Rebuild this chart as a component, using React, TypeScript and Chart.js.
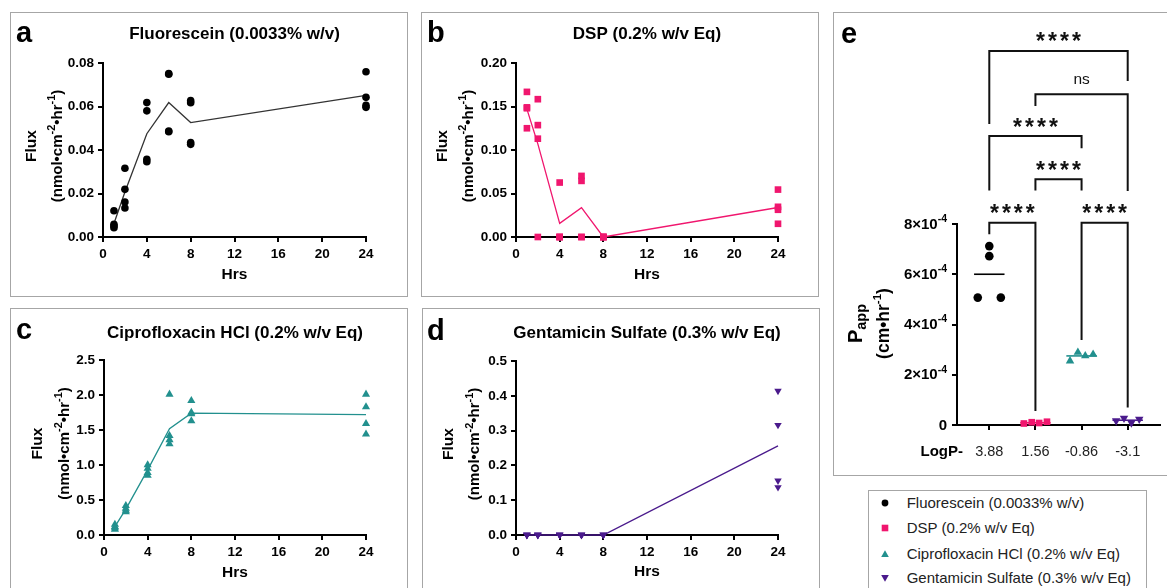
import React, { useEffect, useRef } from 'react';
import { Chart, registerables } from 'chart.js';

Chart.register(...registerables);

const FONT = "'Liberation Sans', Arial, Helvetica, sans-serif";

// ---------------- data ----------------
const hours = [1, 2, 4, 6, 8, 24];
const hourTicks = [0, 4, 8, 12, 16, 20, 24];

const fluoresceinReps = [
  [0.0121, 0.0058, 0.0051, 0.0043],
  [0.0316, 0.0219, 0.0161, 0.0133],
  [0.0618, 0.058, 0.0357, 0.0346],
  [0.0752, 0.0748, 0.0487, 0.0484],
  [0.0627, 0.0617, 0.0434, 0.0426],
  [0.076, 0.0642, 0.0605, 0.0596],
];
const fluoresceinMean = [0.0062, 0.0207, 0.0475, 0.0618, 0.0526, 0.0651];
const fluoresceinTicks = [0, 0.02, 0.04, 0.06, 0.08];

const dspReps = [
  [0.1668, 0.149, 0.148, 0.125],
  [0.1584, 0.1286, 0.113, 0.0],
  [0.0626, 0.0, 0.0, 0.0],
  [0.0702, 0.0645, 0.0, 0.0],
  [0.0, 0.0, 0.0, 0.0],
  [0.0545, 0.0347, 0.0313, 0.0152],
];
const dspMean = [0.147, 0.107, 0.0157, 0.0337, 0.0, 0.0339];
const dspTicks = [0, 0.05, 0.1, 0.15, 0.2];

const ciproReps = [
  [0.15, 0.12, 0.1, 0.08],
  [0.42, 0.38, 0.35, 0.33],
  [1.0, 0.95, 0.89, 0.85],
  [2.01, 1.42, 1.36, 1.3],
  [1.92, 1.75, 1.73, 1.63],
  [2.01, 1.83, 1.59, 1.44],
];
const ciproMean = [0.12, 0.37, 0.93, 1.52, 1.74, 1.72];
const ciproTicks = [0, 0.5, 1, 1.5, 2, 2.5];

const gentaReps = [
  [0, 0, 0, 0],
  [0, 0, 0, 0],
  [0, 0, 0, 0],
  [0, 0, 0, 0],
  [0, 0, 0, 0],
  [0.414, 0.316, 0.156, 0.137],
];
const gentaMean = [0, 0, 0, 0, 0, 0.256];
const gentaTicks = [0, 0.1, 0.2, 0.3, 0.4, 0.5];

// panel e
const logPLabels = ['3.88', '1.56', '-0.86', '-3.1'];
const pappFluorescein = [7.12e-4, 6.72e-4, 5.07e-4, 5.07e-4];
const pappDsp = [0.06e-4, 0.11e-4, 0.08e-4, 0.13e-4];
const pappCipro = [2.55e-4, 2.89e-4, 2.75e-4, 2.81e-4];
const pappGenta = [0.17e-4, 0.27e-4, 0.09e-4, 0.23e-4];
const pappMeans = [6.0e-4, 0.09e-4, 2.75e-4, 0.19e-4];
const jitterFluorescein = [0, 0, -0.25, 0.25];
const jitterOthers = [-0.25, -0.08, 0.08, 0.25];
const pappTicks = [0, 2e-4, 4e-4, 6e-4, 8e-4];
const pappTickMantissa = ['0', '2×10', '4×10', '6×10', '8×10'];
const pappTickExponent = ['', '-4', '-4', '-4', '-4'];

const sigBrackets = [
  { from: 0, to: 3, level: 14.89e-4, leftEnd: 11.98e-4, rightEnd: 13.69e-4, label: '****' },
  { from: 1, to: 3, level: 13.16e-4, leftEnd: 12.7e-4, rightEnd: 9.31e-4, label: 'ns' },
  { from: 0, to: 2, level: 11.5e-4, leftEnd: 9.33e-4, rightEnd: 11.01e-4, label: '****' },
  { from: 1, to: 2, level: 9.78e-4, leftEnd: 9.33e-4, rightEnd: 9.33e-4, label: '****' },
  { from: 0, to: 1, level: 8.05e-4, leftEnd: 7.59e-4, rightEnd: 0.56e-4, label: '****' },
  { from: 2, to: 3, level: 8.05e-4, leftEnd: 3.38e-4, rightEnd: 0.7e-4, label: '****' },
];

const SERIES = [
  { name: 'Fluorescein (0.0033% w/v)', color: '#000000', pointStyle: 'circle', rotation: 0 },
  { name: 'DSP (0.2% w/v Eq)', color: '#F0166E', pointStyle: 'rect', rotation: 0 },
  { name: 'Ciprofloxacin HCl (0.2% w/v Eq)', color: '#22908E', pointStyle: 'triangle', rotation: 0 },
  { name: 'Gentamicin Sulfate (0.3% w/v Eq)', color: '#4A1A8C', pointStyle: 'triangle', rotation: 180 },
];

// ---------------- drawing helpers ----------------
type Seg = { t: string; size: number; bold?: boolean; dy?: number };

function fontStr(size: number, bold?: boolean) {
  return `${bold ? 'bold ' : ''}${size}px ${FONT}`;
}

function drawRich(ctx: CanvasRenderingContext2D, segs: Seg[], x: number, y: number, align: string, rot: number, color: string) {
  ctx.save();
  ctx.translate(x, y);
  if (rot) ctx.rotate(rot);
  ctx.fillStyle = color;
  ctx.textBaseline = 'middle';
  ctx.textAlign = 'left';
  let total = 0;
  const widths = segs.map((s) => {
    ctx.font = fontStr(s.size, s.bold);
    const w = ctx.measureText(s.t).width;
    total += w;
    return w;
  });
  let cx = align === 'center' ? -total / 2 : align === 'right' ? -total : 0;
  segs.forEach((s, i) => {
    ctx.font = fontStr(s.size, s.bold);
    ctx.fillText(s.t, cx, s.dy || 0);
    cx += widths[i];
  });
  ctx.restore();
}

function drawText(ctx: CanvasRenderingContext2D, text: string, x: number, y: number, font: string, align: CanvasTextAlign, color = '#000') {
  ctx.save();
  ctx.font = font;
  ctx.fillStyle = color;
  ctx.textAlign = align;
  ctx.textBaseline = 'alphabetic';
  ctx.fillText(text, x, y);
  ctx.restore();
}

function axisCommon(fontSize: number, bold: boolean, pad: number, color = '#000') {
  return {
    ticks: { font: { family: FONT, size: fontSize, weight: bold ? 'bold' : 'normal' }, color, padding: pad, maxRotation: 0, autoSkip: false },
    grid: { display: true, drawOnChartArea: false, drawTicks: true, tickLength: 5, color: '#000', lineWidth: 2 },
    border: { display: true, color: '#000', width: 2 },
  };
}

// ---------------- panels a-d ----------------
const Y_W = 50;
const X_H = 30;

type TimeCfg = {
  w: number; h: number;
  area: { l: number; r: number; t: number; b: number };
  letter: string; letterX: number; letterBase: number;
  title: string; titleBase: number; hrsY: number;
  fluxX: number; parenX: number;
  reps: number[][]; mean: number[]; series: number; radius: number;
  yTicks: number[]; decimals: number;
};

const panelA: TimeCfg = {
  w: 396, h: 283, area: { l: 92, r: 355, t: 50, b: 224 },
  letter: 'a', letterX: 5, letterBase: 29, title: SERIES[0].name, titleBase: 26.3, hrsY: 262,
  fluxX: 21, parenX: 46.5, reps: fluoresceinReps, mean: fluoresceinMean, series: 0, radius: 3.8,
  yTicks: fluoresceinTicks, decimals: 2,
};
const panelB: TimeCfg = {
  w: 396, h: 283, area: { l: 94, r: 356, t: 50, b: 224 },
  letter: 'b', letterX: 5, letterBase: 28.7, title: SERIES[1].name, titleBase: 26.3, hrsY: 262,
  fluxX: 21, parenX: 46.5, reps: dspReps, mean: dspMean, series: 1, radius: 4.7,
  yTicks: dspTicks, decimals: 2,
};
const panelC: TimeCfg = {
  w: 396, h: 290, area: { l: 93, r: 355, t: 51, b: 226 },
  letter: 'c', letterX: 5, letterBase: 30.3, title: SERIES[2].name, titleBase: 29.3, hrsY: 264,
  fluxX: 27, parenX: 53.5, reps: ciproReps, mean: ciproMean, series: 2, radius: 4.7,
  yTicks: ciproTicks, decimals: 1,
};
const panelD: TimeCfg = {
  w: 396, h: 290, area: { l: 93, r: 355, t: 52, b: 226 },
  letter: 'd', letterX: 4, letterBase: 31, title: SERIES[3].name, titleBase: 29.3, hrsY: 263,
  fluxX: 25.5, parenX: 52, reps: gentaReps, mean: gentaMean, series: 3, radius: 4.3,
  yTicks: gentaTicks, decimals: 1,
};

function drawTimeText(chart: any, cfg: TimeCfg) {
  const ctx: CanvasRenderingContext2D = chart.ctx;
  const a = chart.chartArea;
  const cx = (a.left + a.right) / 2;
  drawText(ctx, cfg.letter, cfg.letterX, cfg.letterBase, fontStr(29, true), 'left');
  drawText(ctx, cfg.title, cx, cfg.titleBase, fontStr(17, true), 'center');
  drawRich(ctx, [{ t: 'Hrs', size: 15.5, bold: true }], cx, cfg.hrsY, 'center', 0, '#000');
  const cy = (a.top + a.bottom) / 2 - 4;
  drawRich(ctx, [{ t: 'Flux', size: 15.5, bold: true }], cfg.fluxX, cy, 'center', -Math.PI / 2, '#000');
  drawRich(
    ctx,
    [
      { t: '(nmol•cm', size: 15, bold: true },
      { t: '-2', size: 11, bold: true, dy: -5.5 },
      { t: '•hr', size: 15, bold: true },
      { t: '-1', size: 11, bold: true, dy: -5.5 },
      { t: ')', size: 15, bold: true },
    ],
    cfg.parenX, cy, 'center', -Math.PI / 2, '#000'
  );
}

function buildTimeConfig(cfg: TimeCfg): any {
  const s = SERIES[cfg.series];
  const pts = hours.flatMap((h, i) => cfg.reps[i].map((v) => ({ x: h, y: v })));
  const line = hours.map((h, i) => ({ x: h, y: cfg.mean[i] }));
  const xc = axisCommon(13.5, true, 4.5);
  const yc = axisCommon(13.5, true, 4);
  return {
    type: 'scatter',
    data: {
      datasets: [
        {
          data: pts, pointStyle: s.pointStyle, pointRotation: s.rotation, pointRadius: cfg.radius,
          pointBackgroundColor: s.color, pointBorderColor: s.color, pointBorderWidth: 0, clip: false,
        },
        {
          data: line, showLine: true, pointRadius: 0,
          borderColor: cfg.series === 0 ? '#333' : s.color, borderWidth: 1.3, clip: false,
        },
      ],
    },
    options: {
      animation: false, responsive: false, events: [],
      layout: { padding: { left: cfg.area.l - Y_W, right: cfg.w - cfg.area.r, top: cfg.area.t, bottom: cfg.h - cfg.area.b - X_H } },
      plugins: { legend: { display: false }, title: { display: false }, tooltip: { enabled: false } },
      scales: {
        x: {
          type: 'linear', min: 0, max: 24, ...xc,
          afterBuildTicks: (sc: any) => { sc.ticks = hourTicks.map((v) => ({ value: v })); },
          afterFit: (sc: any) => { sc.height = X_H; },
        },
        y: {
          type: 'linear', min: 0, max: cfg.yTicks[cfg.yTicks.length - 1], ...yc,
          ticks: { ...yc.ticks, callback: (v: any) => Number(v).toFixed(cfg.decimals) },
          afterBuildTicks: (sc: any) => { sc.ticks = cfg.yTicks.map((v) => ({ value: v })); },
          afterFit: (sc: any) => { sc.width = Y_W; },
        },
      },
    },
    plugins: [{ id: 'timeText', afterDraw: (chart: any) => drawTimeText(chart, cfg) }],
  };
}

function TimePanel({ cfg }: { cfg: TimeCfg }) {
  const ref = useRef<HTMLCanvasElement>(null);
  useEffect(() => {
    const chart = new Chart(ref.current as HTMLCanvasElement, buildTimeConfig(cfg));
    return () => chart.destroy();
  }, [cfg]);
  return <canvas ref={ref} width={cfg.w} height={cfg.h} style={{ position: 'absolute', left: 0, top: 0 }} />;
}

// ---------------- panel e ----------------
const E_W = 333;
const E_H = 462;
const E_AREA = { l: 123, r: 326, t: 211, b: 412 };
const E_YW = 60;
const E_XH = 40;
const MEAN_HALF = 0.33;

function drawPappText(chart: any) {
  const ctx: CanvasRenderingContext2D = chart.ctx;
  const a = chart.chartArea;
  const xs = chart.scales.x;
  const ys = chart.scales.y;
  drawText(ctx, 'e', 7, 30, fontStr(29, true), 'left');

  // y tick labels
  pappTicks.forEach((v, i) => {
    const y = ys.getPixelForValue(v);
    const segs: Seg[] = [{ t: pappTickMantissa[i], size: 15, bold: true, dy: 0.5 }];
    if (pappTickExponent[i]) segs.push({ t: pappTickExponent[i], size: 10.5, bold: true, dy: -5 });
    drawRich(ctx, segs, a.left - 10, y, 'right', 0, '#000');
  });

  // y title
  const cy = (a.top + a.bottom) / 2 - 1;
  drawRich(ctx, [{ t: 'P', size: 20, bold: true }, { t: 'app', size: 14.5, bold: true, dy: 5.5 }], 22.5, cy, 'center', -Math.PI / 2, '#000');
  drawRich(
    ctx,
    [
      { t: '(cm•hr', size: 17.5, bold: true },
      { t: '-1', size: 11.5, bold: true, dy: -6.5 },
      { t: ')', size: 17.5, bold: true },
    ],
    50, cy, 'center', -Math.PI / 2, '#000'
  );

  // LogP label
  drawRich(ctx, [{ t: 'LogP-', size: 15, bold: true }], a.left + 6, 438.7, 'right', 0, '#000');

  // significance brackets
  ctx.save();
  ctx.strokeStyle = '#111';
  ctx.lineWidth = 2;
  ctx.lineJoin = 'miter';
  ctx.lineCap = 'butt';
  sigBrackets.forEach((b) => {
    const x1 = xs.getPixelForValue(b.from);
    const x2 = xs.getPixelForValue(b.to);
    const yl = ys.getPixelForValue(b.level);
    ctx.beginPath();
    ctx.moveTo(x1, ys.getPixelForValue(b.leftEnd));
    ctx.lineTo(x1, yl);
    ctx.lineTo(x2, yl);
    ctx.lineTo(x2, ys.getPixelForValue(b.rightEnd));
    ctx.stroke();
    const mx = (x1 + x2) / 2;
    const cyl = yl - 14;
    ctx.fillStyle = '#111';
    ctx.textAlign = 'center';
    ctx.textBaseline = 'alphabetic';
    if (b.label === 'ns') {
      ctx.font = fontStr(15.5, false);
      (ctx as any).letterSpacing = '0px';
    } else {
      ctx.font = fontStr(23, true);
      (ctx as any).letterSpacing = '3px';
    }
    const m = ctx.measureText(b.label);
    const asc = m.actualBoundingBoxAscent;
    const desc = m.actualBoundingBoxDescent;
    const base = cyl + (asc - desc) / 2;
    const extra = b.label === 'ns' ? 0 : 1.5;
    ctx.fillText(b.label, mx + extra, base);
  });
  (ctx as any).letterSpacing = '0px';
  ctx.restore();
}

function buildPappConfig(): any {
  const groups = [
    { vals: pappFluorescein, jit: jitterFluorescein, r: 4.3 },
    { vals: pappDsp, jit: jitterOthers, r: 4.7 },
    { vals: pappCipro, jit: jitterOthers, r: 4.9 },
    { vals: pappGenta, jit: jitterOthers, r: 4.9 },
  ];
  const pointSets = groups.map((g, gi) => ({
    data: g.vals.map((v, i) => ({ x: gi + g.jit[i], y: v })),
    pointStyle: SERIES[gi].pointStyle, pointRotation: SERIES[gi].rotation, pointRadius: g.r,
    pointBackgroundColor: SERIES[gi].color, pointBorderColor: SERIES[gi].color, pointBorderWidth: 0, clip: false,
  }));
  const meanSets = pappMeans.map((m, gi) => ({
    data: [{ x: gi - MEAN_HALF, y: m }, { x: gi + MEAN_HALF, y: m }],
    showLine: true, pointRadius: 0, borderColor: SERIES[gi].color, borderWidth: 1.6, clip: false,
  }));
  const xc = axisCommon(14.5, false, 13, '#222');
  const yc = axisCommon(14, true, 4);
  return {
    type: 'scatter',
    data: { datasets: [...pointSets, ...meanSets] },
    options: {
      animation: false, responsive: false, events: [],
      layout: { padding: { left: E_AREA.l - E_YW, right: E_W - E_AREA.r, top: E_AREA.t, bottom: E_H - E_AREA.b - E_XH } },
      plugins: { legend: { display: false }, title: { display: false }, tooltip: { enabled: false } },
      scales: {
        x: {
          type: 'linear', min: -0.7, max: 3.7, ...xc,
          ticks: { ...xc.ticks, callback: (v: any) => logPLabels[Math.round(Number(v))] ?? '' },
          afterBuildTicks: (sc: any) => { sc.ticks = logPLabels.map((_, i) => ({ value: i })); },
          afterFit: (sc: any) => { sc.height = E_XH; },
        },
        y: {
          type: 'linear', min: 0, max: pappTicks[pappTicks.length - 1], ...yc,
          ticks: { ...yc.ticks, display: false },
          afterBuildTicks: (sc: any) => { sc.ticks = pappTicks.map((v) => ({ value: v })); },
          afterFit: (sc: any) => { sc.width = E_YW; },
        },
      },
    },
    plugins: [{ id: 'pappText', afterDraw: (chart: any) => drawPappText(chart) }],
  };
}

function PappPanel() {
  const ref = useRef<HTMLCanvasElement>(null);
  useEffect(() => {
    const chart = new Chart(ref.current as HTMLCanvasElement, buildPappConfig());
    return () => chart.destroy();
  }, []);
  return <canvas ref={ref} width={E_W} height={E_H} style={{ position: 'absolute', left: 0, top: 0 }} />;
}

// ---------------- layout ----------------
function Box({ left, top, width, height, children }: any) {
  return (
    <div
      style={{
        position: 'absolute', left, top, width, height, border: '1px solid #a6a6a6',
        boxSizing: 'border-box', overflow: 'hidden', background: '#fff',
      }}
    >
      {children}
    </div>
  );
}

const LEG_ROWS = [12.3, 37.3, 63, 87.3];

function Marker({ i }: { i: number }) {
  const c = SERIES[i].color;
  let shape: any = null;
  if (i === 0) shape = <circle cx={6} cy={6} r={3.4} fill={c} />;
  else if (i === 1) shape = <rect x={2.7} y={2.7} width={6.6} height={6.6} fill={c} />;
  else if (i === 2) shape = <polygon points="6,2.2 9.8,9 2.2,9" fill={c} />;
  else shape = <polygon points="2.2,3 9.8,3 6,9.8" fill={c} />;
  return (
    <svg width={12} height={12} style={{ position: 'absolute', left: 10, top: 4 }}>
      {shape}
    </svg>
  );
}

function LegendBox() {
  return (
    <div
      style={{
        position: 'absolute', left: 868, top: 490, width: 279, height: 120,
        border: '1px solid #a6a6a6', boxSizing: 'border-box', background: '#fff',
      }}
    >
      {SERIES.map((s, i) => (
        <div key={s.name} style={{ position: 'absolute', left: 0, top: LEG_ROWS[i] - 10, height: 20, width: 277 }}>
          <Marker i={i} />
          <span
            style={{
              position: 'absolute', left: 37.7, top: 0, lineHeight: '20px', fontSize: 15,
              color: '#222', whiteSpace: 'nowrap', fontFamily: FONT,
            }}
          >
            {s.name}
          </span>
        </div>
      ))}
    </div>
  );
}

export default function App() {
  return (
    <div
      style={{
        position: 'fixed', left: 0, top: 0, width: 1167, height: 588, overflow: 'hidden',
        background: '#fff', fontFamily: FONT,
      }}
    >
      <Box left={10} top={12} width={398} height={285}><TimePanel cfg={panelA} /></Box>
      <Box left={421} top={12} width={398} height={285}><TimePanel cfg={panelB} /></Box>
      <Box left={10} top={308} width={398} height={300}><TimePanel cfg={panelC} /></Box>
      <Box left={422} top={308} width={398} height={300}><TimePanel cfg={panelD} /></Box>
      <Box left={833} top={12} width={345} height={464}><PappPanel /></Box>
      <LegendBox />
    </div>
  );
}
